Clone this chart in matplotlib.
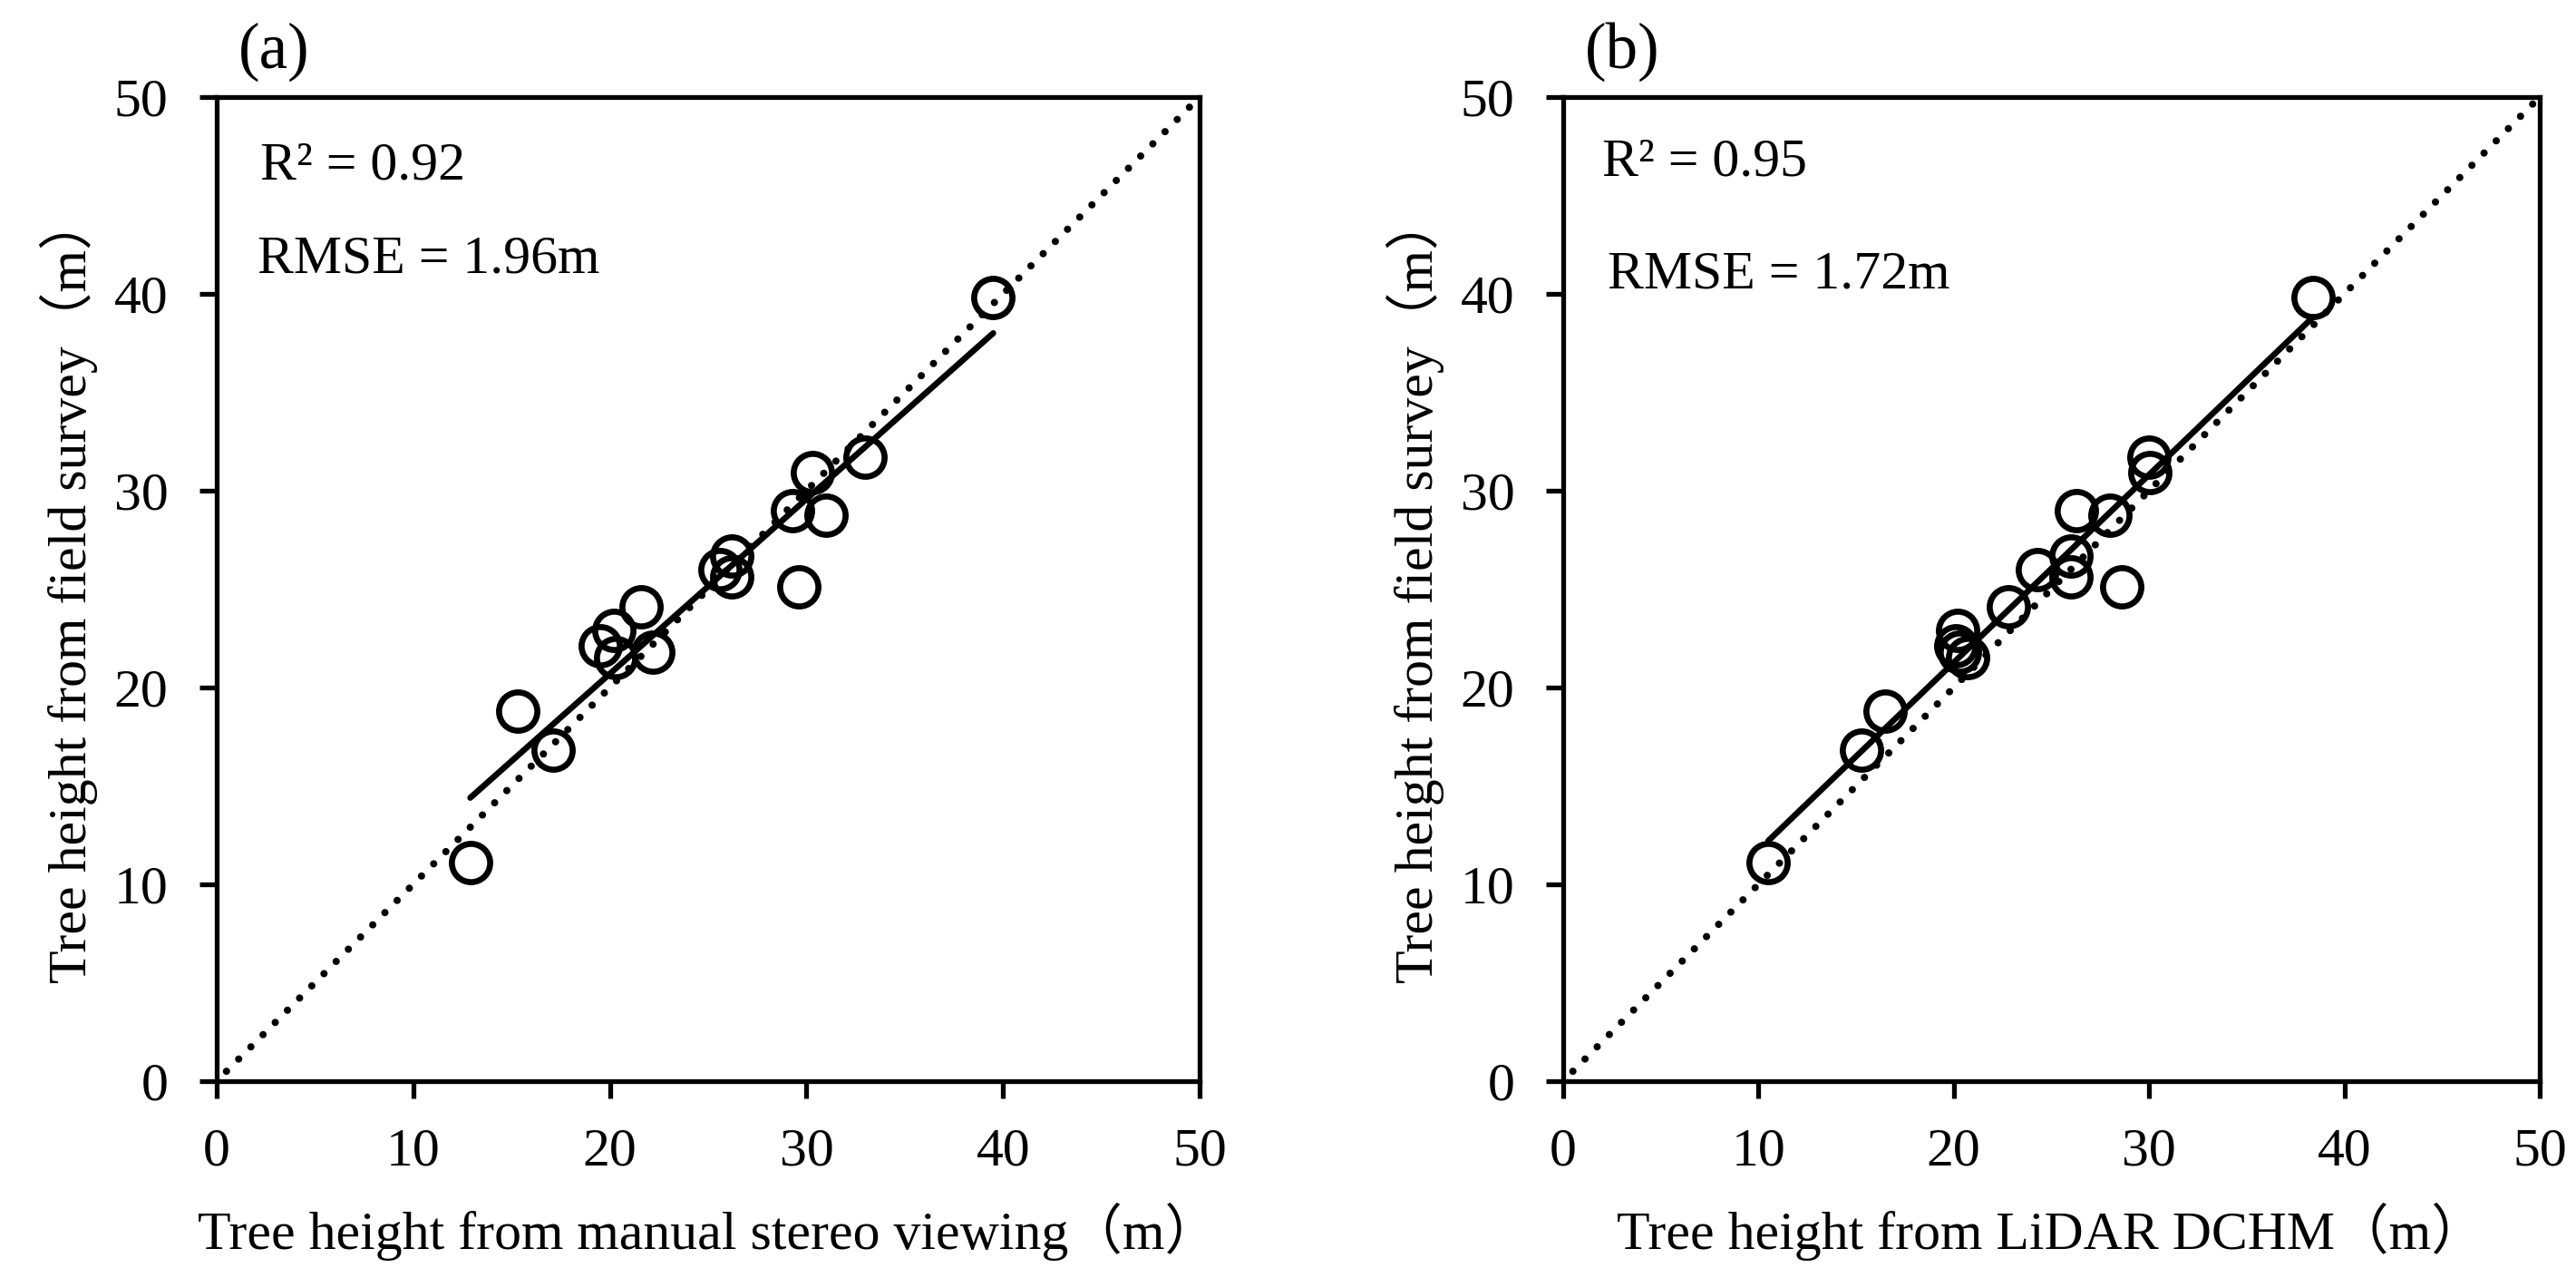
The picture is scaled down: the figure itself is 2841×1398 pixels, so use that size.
import numpy as np
import matplotlib
matplotlib.use("Agg")
import matplotlib.pyplot as plt

plt.rcParams["font.family"] = ["Liberation Serif", "Noto Sans CJK JP"]

# field-measured tree height (m), shared by both panels
field_h = [11.1, 16.8, 18.8, 22.9, 22.1, 21.8, 21.5, 24.1, 26.0, 26.7,
           25.6, 25.1, 29.0, 28.75, 30.9, 31.7, 39.8]
# (a) manual stereo viewing
stereo_h = [12.9, 17.1, 15.3, 20.2, 19.5, 22.2, 20.3, 21.6, 25.6, 26.2,
            26.2, 29.6, 29.3, 31.0, 30.3, 33.0, 39.5]
# (b) LiDAR DCHM
lidar_h = [10.5, 15.3, 16.5, 20.2, 20.1, 20.3, 20.7, 22.8, 24.3, 26.0,
           26.0, 28.6, 26.3, 28.0, 30.05, 30.0, 38.4]

ref_line = [0.5, 50]
ticks = [0, 10, 20, 30, 40, 50]

panels = [
    dict(tag="(a)", x=stereo_h, r2="R\u00b2 = 0.92", rmse="RMSE = 1.96m",
         xlabel="Tree height from manual stereo viewing\uff08m\uff09",
         r2_pos=(2.2, 45.85), rmse_pos=(2.1, 41.1)),
    dict(tag="(b)", x=lidar_h, r2="R\u00b2 = 0.95", rmse="RMSE = 1.72m",
         xlabel="Tree height from LiDAR DCHM\uff08m\uff09",
         r2_pos=(2.0, 46.0), rmse_pos=(2.3, 40.3)),
]
ylabel = "Tree height from field survey\uff08m\uff09"

fig = plt.figure(figsize=(14.205, 6.99), dpi=200)
rects = [[0.0841, 0.1474, 0.3816, 0.7761], [0.6068, 0.1474, 0.3791, 0.7761]]

FS = 21.5
for rect, p in zip(rects, panels):
    ax = fig.add_axes(rect)
    x = np.array(p["x"])
    y = np.array(field_h)

    # 1:1 line
    ax.plot(ref_line, ref_line, color="black", lw=2.9,
            linestyle=(0, (0.001, 2.36)), dash_capstyle="round", zorder=2)

    # linear fit over the data range
    k, b = np.polyfit(x, y, 1)
    xs = np.array([x.min(), x.max()])
    ax.plot(xs, k * xs + b, color="black", lw=2.4,
            solid_capstyle="round", zorder=3)

    ax.plot(x, y, "o", ms=15.2, mfc="none", mec="black", mew=2.4, zorder=4)

    ax.set_xlim(0, 50)
    ax.set_ylim(0, 50)
    ax.set_xticks(ticks)
    ax.set_yticks(ticks)
    for s in ax.spines.values():
        s.set_linewidth(1.9)
    ax.tick_params(axis="both", direction="out", length=6.8, width=1.9,
                   labelsize=FS, top=False, right=False)
    ax.tick_params(axis="x", pad=11.8)
    ax.tick_params(axis="y", pad=12.5)

    ax.set_xlabel(p["xlabel"], fontsize=FS, labelpad=10)
    ax.set_ylabel(ylabel, fontsize=FS, labelpad=6.5)

    ax.text(*p["r2_pos"], p["r2"], fontsize=FS, va="baseline")
    ax.text(*p["rmse_pos"], p["rmse"], fontsize=FS, va="baseline")
    ax.text(0.022, 1.016, p["tag"], transform=ax.transAxes,
            fontsize=25.5, va="bottom", ha="left")

fig.savefig("out.png", dpi=200)
